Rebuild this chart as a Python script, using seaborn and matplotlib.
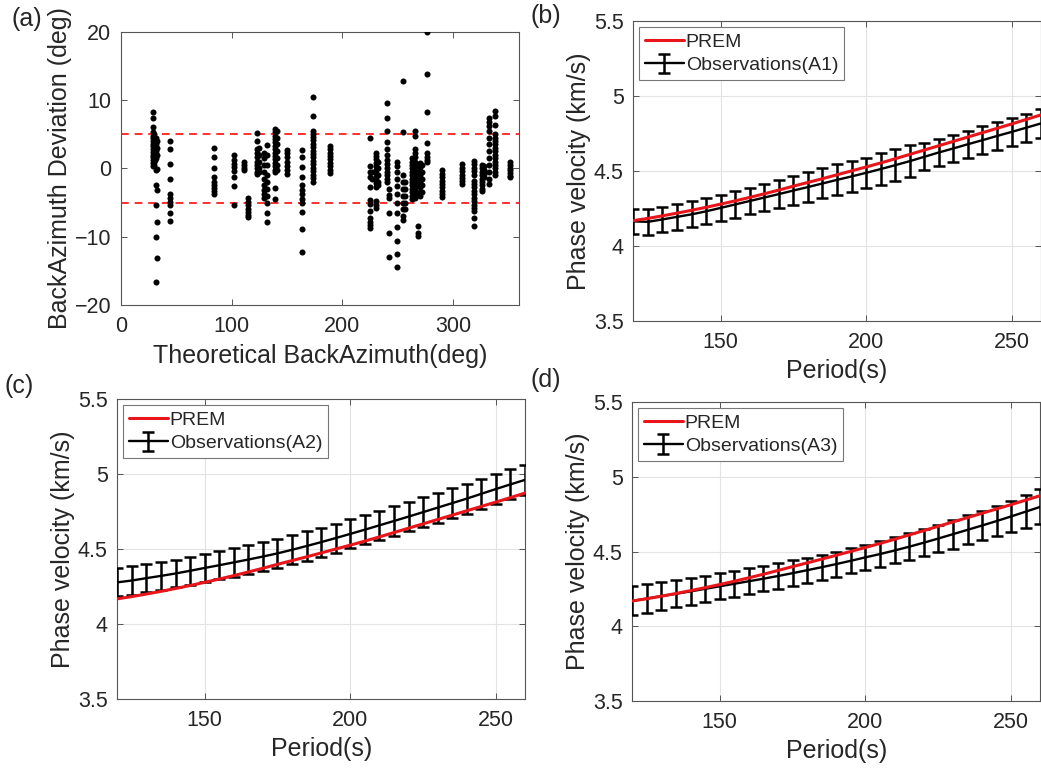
import numpy as np
import pandas as pd
import matplotlib
matplotlib.use("Agg")
import matplotlib.pyplot as plt
import seaborn as sns

# ---------------- data: panel (a) ----------------
baz_groups = [29, 30, 31, 32, 33, 44.5, 84, 102, 111, 115, 123, 125, 129, 131.8,
              139, 141, 149.7, 163.6, 173.3, 188.5, 224.8, 227, 230, 232,
              240.6, 242.5, 249, 254.5, 257, 263, 266, 268, 270, 272, 276.4,
              290, 308, 318.5, 326, 328, 332.4, 338, 351.5]
dev_groups = [
    [8.3, 7.4, 6.0, 5.3, 4.8, 4.4, 4.0, 3.6, 3.2, 2.8, 2.4, 2.0, 1.6, 1.2, 0.8, 0.4],
    [5.0, 4.5, 4.0, 3.5, 3.0, 2.5, 2.0, 1.5, 1.0, 0.5],
    [4.2, 3.7, 3.2, 2.7, 2.2, 1.7, 1.2],
    [4.5, 4.0, 3.5, 3.0, 2.5, 2.0, 1.5, -0.2, -2.5, -5.3, -10.0, -16.7],
    [4.0, 3.0, 2.0, -0.1, -3.1, -7.9, -13.1],
    [4.0, 2.9, 0.7, -1.6, -3.8, -4.4, -4.9, -5.3, -6.5, -7.7],
    [3.0, 1.7, 0.1, -1.2, -2.0, -2.5, -2.9, -3.3, -3.8],
    [1.9, 1.2, 0.7, 0.2, -0.4, -1.2, -2.6, -5.3],
    [0.9, 0.5, 0.1, -0.3],
    [-4.4, -4.9, -5.4, -5.9, -6.4, -6.8, -7.1],
    [5.2, 4.0, 2.8, 2.2, 1.6, 1.0, 0.5, 0.0, -0.5, -0.8],
    [3.0, 2.0, 1.0, 0.0, -0.6],
    [2.3, 1.5, 0.5, -0.5, -1.5, -2.5, -3.2, -3.8, -4.4],
    [3.4, 2.0, 0.5, -1.0, -2.0, -3.0, -4.0, -5.0, -6.5, -7.8],
    [5.7, 5.3, 4.8, 4.3, 3.8, 3.3, 2.8, 2.3, 1.8, 1.3, 0.8, 0.3, -0.2, -0.6, -2.9, -4.5],
    [5.5, 4.5, 3.5, 2.5, 1.5, 0.5, -0.3],
    [2.7, 2.2, 1.6, 1.0, 0.4, -0.2, -0.8],
    [2.7, 1.6, 0.2, -1.2, -2.5, -3.2, -3.8, -4.5, -5.0, -6.4, -8.9, -12.3],
    [10.5, 7.7, 5.5, 5.1, 4.6, 4.1, 3.6, 3.1, 2.6, 2.1, 1.6, 1.1, 0.6, 0.1, -0.4, -0.9, -1.4, -2.0],
    [3.3, 2.8, 2.3, 1.8, 1.3, 0.8, 0.3, -0.2, -0.7],
    [4.5, 0.3, -0.5, -1.2, -2.8, -4.6, -5.2, -6.3, -7.2, -7.8, -8.3, -8.8],
    [-0.5, -1.5],
    [2.3, 1.8, 1.3, 0.8, 0.3, -0.2, -0.7, -1.2, -1.7, -2.2, -2.7, -4.8, -5.3, -5.8],
    [1.0, 0.0, -1.0, -2.0, -2.5],
    [9.5, 7.4, 5.5, 3.9, 2.9, 1.9, 1.2, 0.6, 0.0, -0.5, -1.0, -1.5, -2.0],
    [-3.0, -3.9, -4.4, -6.6, -9.5, -13.0],
    [1.0, 0.3, -0.6, -1.6, -2.6, -3.8, -5.0, -6.6, -8.6, -10.6, -12.6, -14.5],
    [12.8, 5.3, -1.0, -2.0, -3.0, -4.0, -5.0, -6.0, -7.0, -7.5],
    [-2.0, -3.0, -4.0, -5.0, -6.0],
    [1.5, 1.0, 0.5, 0.0, -0.5, -1.0, -1.5, -2.0, -2.5, -3.0, -3.5, -4.0, -4.5],
    [5.5, 4.7, 2.8, 2.2, 1.6, 1.0, 0.4, -0.2, -0.8, -1.4, -2.0, -2.6, -3.2, -3.8, -4.4],
    [-8.4, -9.4, -9.9],
    [0.8, 0.2, -0.4, -1.0, -1.6, -2.2, -2.8, -3.4, -4.0],
    [0.5, -0.5, -1.5, -2.5, -3.5],
    [19.9, 13.8, 8.2, 3.7, 2.2, 1.7, 1.2, 0.9],
    [-0.3, -0.8, -1.3, -1.8, -2.3, -2.8, -3.3, -3.8, -4.2],
    [0.6, 0.1, -0.4, -0.9, -1.4, -1.9, -2.3],
    [1.1, 0.6, 0.1, -0.4, -1.0, -1.8, -2.3, -2.8, -3.3, -3.8, -4.3, -4.8, -5.3, -5.8, -6.3, -7.3, -8.5],
    [0.5, 0.0, -0.5, -1.0, -1.5, -2.0, -2.5, -3.0, -3.3],
    [0.3, -0.3, -0.8, -1.3],
    [7.3, 6.8, 6.2, 5.5, 4.5, 3.5, 2.5, 1.5, 0.5, -0.5, -1.5, -2.3],
    [8.4, 7.7, 6.3, 5.0, 4.5, 4.0, 3.5, 3.0, 2.5, 2.0, 1.5, 1.0, 0.5, 0.0, -0.5, -0.9],
    [0.9, 0.5, 0.1, -0.3, -0.7, -1.1, -1.3],
]
threshold = 5

# ---------------- data: panels (b)-(d) ----------------
period = [120, 125, 130, 135, 140, 145, 150, 155, 160, 165, 170, 175, 180, 185, 190,
          195, 200, 205, 210, 215, 220, 225, 230, 235, 240, 245, 250, 255, 260]
prem = [4.170, 4.185, 4.202, 4.220, 4.239, 4.259, 4.280, 4.302, 4.325, 4.349, 4.374,
        4.400, 4.425, 4.450, 4.476, 4.502, 4.528, 4.555, 4.583, 4.612, 4.641, 4.670,
        4.699, 4.728, 4.757, 4.786, 4.815, 4.845, 4.875]
obs_a1 = [4.165, 4.162, 4.178, 4.195, 4.212, 4.232, 4.255, 4.278, 4.301, 4.324, 4.347,
          4.371, 4.394, 4.418, 4.442, 4.465, 4.489, 4.514, 4.540, 4.567, 4.596, 4.625,
          4.652, 4.680, 4.707, 4.735, 4.762, 4.790, 4.818]
err_a1 = [0.085, 0.085, 0.085, 0.085, 0.086, 0.087, 0.088, 0.089, 0.090, 0.092, 0.094,
          0.096, 0.098, 0.100, 0.103, 0.105, 0.100, 0.105, 0.105, 0.105, 0.090, 0.088,
          0.088, 0.090, 0.092, 0.093, 0.094, 0.094, 0.096]
obs_a2 = [4.280, 4.292, 4.308, 4.323, 4.339, 4.357, 4.376, 4.394, 4.413, 4.432, 4.452,
          4.473, 4.497, 4.522, 4.548, 4.575, 4.603, 4.631, 4.660, 4.689, 4.718, 4.748,
          4.778, 4.808, 4.838, 4.870, 4.902, 4.933, 4.963]
err_a2 = [0.094, 0.094, 0.093, 0.093, 0.093, 0.093, 0.094, 0.094, 0.095, 0.095, 0.095,
          0.096, 0.096, 0.097, 0.097, 0.097, 0.097, 0.098, 0.098, 0.098, 0.099, 0.099,
          0.100, 0.100, 0.100, 0.100, 0.100, 0.100, 0.100]
obs_a3 = [4.170, 4.186, 4.202, 4.218, 4.234, 4.251, 4.268, 4.285, 4.302, 4.319, 4.337,
          4.356, 4.376, 4.396, 4.417, 4.439, 4.462, 4.484, 4.508, 4.533, 4.560, 4.588,
          4.617, 4.646, 4.675, 4.705, 4.736, 4.768, 4.800]
err_a3 = [0.097, 0.095, 0.093, 0.091, 0.090, 0.089, 0.088, 0.087, 0.086, 0.085, 0.085,
          0.085, 0.084, 0.084, 0.084, 0.084, 0.084, 0.085, 0.087, 0.089, 0.091, 0.093,
          0.096, 0.098, 0.100, 0.103, 0.106, 0.112, 0.118]
obs_labels = ["Observations(A1)", "Observations(A2)", "Observations(A3)"]
panel_tags = ["(a)", "(b)", "(c)", "(d)"]

# ---------------- style ----------------
sns.set_style("ticks")
plt.rcParams["font.family"] = ["Liberation Sans", "DejaVu Sans"]
plt.rcParams.update({
    "xtick.direction": "in", "ytick.direction": "in",
    "xtick.top": True, "ytick.right": True,
    "xtick.major.size": 4, "ytick.major.size": 4,
    "xtick.major.width": 0.7, "ytick.major.width": 0.7,
    "xtick.color": "#555555", "ytick.color": "#555555",
    "xtick.labelcolor": "#262626", "ytick.labelcolor": "#262626",
    "axes.edgecolor": "#555555", "axes.linewidth": 0.8,
})
TICK_FS = 15.5
LABEL_FS = 18
LEG_FS = 14
TAG_FS = 18

fig = plt.figure(figsize=(10.41, 7.73), dpi=100)
ax_a = fig.add_axes([0.1162, 0.6054, 0.3828, 0.3536])
ax_b = fig.add_axes([0.6084, 0.5847, 0.3913, 0.3877])
ax_c = fig.add_axes([0.1127, 0.0953, 0.3916, 0.3881])
ax_d = fig.add_axes([0.6074, 0.0931, 0.3920, 0.3865])

# ---------- panel (a) ----------
df_a = pd.DataFrame({
    "baz": np.concatenate([[b] * len(d) for b, d in zip(baz_groups, dev_groups)]),
    "dev": np.concatenate(dev_groups),
})
sns.scatterplot(data=df_a, x="baz", y="dev", ax=ax_a, color="black", s=19,
                linewidth=0, legend=False, zorder=3)
ax_a.axhline(threshold, color="#ff3030", ls=(0, (4, 3)), lw=1.4, zorder=2)
ax_a.axhline(-threshold, color="#ff3030", ls=(0, (4, 3)), lw=1.4, zorder=2)
ax_a.set_xlim(0, 360)
ax_a.set_ylim(-20, 20)
ax_a.set_xticks([0, 100, 200, 300])
ax_a.set_yticks([-20, -10, 0, 10, 20])
ax_a.tick_params(axis="x", labelsize=TICK_FS, pad=8)
ax_a.tick_params(axis="y", labelsize=TICK_FS, pad=7)
ax_a.set_xlabel("Theoretical BackAzimuth(deg)", fontsize=LABEL_FS, labelpad=5)
ax_a.set_ylabel("BackAzimuth Deviation (deg)", fontsize=LABEL_FS, labelpad=2)
for s in ax_a.spines.values():
    s.set_visible(True)

# ---------- panels (b)-(d) ----------
for ax, obs, err, lab in zip([ax_b, ax_c, ax_d], [obs_a1, obs_a2, obs_a3],
                             [err_a1, err_a2, err_a3], obs_labels):
    eb = ax.errorbar(period, obs, yerr=err, fmt="-", color="black", lw=1.7,
                     elinewidth=1.8, capsize=4.5, capthick=1.8, zorder=3, label=lab)
    sns.lineplot(x=period, y=prem, ax=ax, color="#e8161b", lw=2.2, zorder=4,
                 label="PREM", legend=False)
    prem_line = ax.lines[-1]
    ax.set_xlim(120, 260)
    ax.set_ylim(3.5, 5.5)
    ax.set_xticks([150, 200, 250])
    ax.set_yticks([3.5, 4, 4.5, 5, 5.5])
    ax.set_yticklabels(["3.5", "4", "4.5", "5", "5.5"])
    ax.grid(True, color="#e3e3e3", lw=0.8)
    ax.set_axisbelow(True)
    ax.tick_params(axis="x", labelsize=TICK_FS, pad=8)
    ax.tick_params(axis="y", labelsize=TICK_FS, pad=7)
    ax.set_xlabel("Period(s)", fontsize=LABEL_FS, labelpad=4)
    ax.set_ylabel("Phase velocity (km/s)", fontsize=LABEL_FS, labelpad=2)
    for s in ax.spines.values():
        s.set_visible(True)
    leg = ax.legend([prem_line, eb], ["PREM", lab], loc="upper left",
                    fontsize=LEG_FS, frameon=True, fancybox=False,
                    edgecolor="#777777", framealpha=1, borderaxespad=0.3,
                    handlelength=2.0, handletextpad=0.1, borderpad=0.3,
                    labelspacing=0.3)
    leg.get_frame().set_linewidth(0.8)

# panel tags
fig.text(0.011, 0.975, panel_tags[0], fontsize=TAG_FS, va="center", ha="left")
fig.text(0.510, 0.979, panel_tags[1], fontsize=TAG_FS, va="center", ha="left")
fig.text(0.004, 0.501, panel_tags[2], fontsize=TAG_FS, va="center", ha="left")
fig.text(0.510, 0.508, panel_tags[3], fontsize=TAG_FS, va="center", ha="left")

fig.savefig("out.png", dpi=100)
